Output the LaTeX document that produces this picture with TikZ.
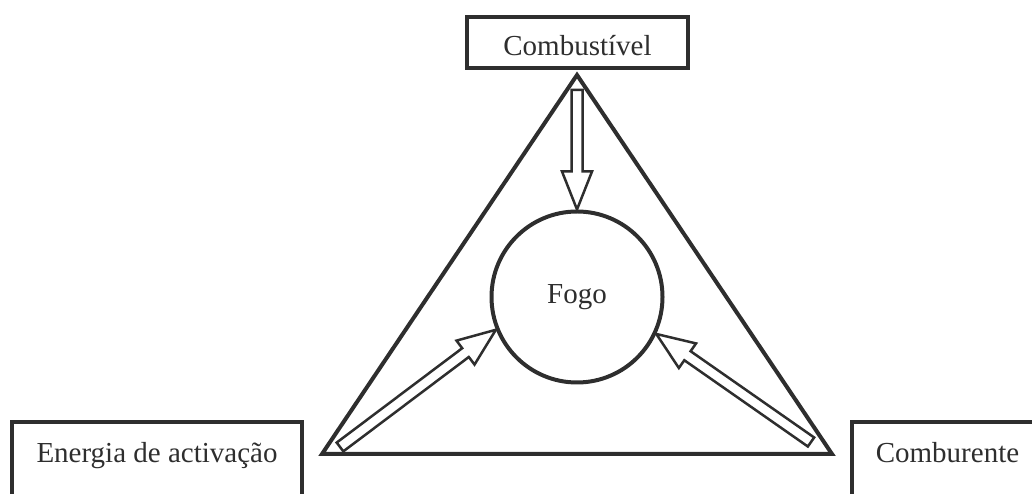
\documentclass[tikz,border=0pt]{standalone}
\usepackage{fontspec}
\setmainfont{Liberation Serif}
\usetikzlibrary{calc}
\definecolor{ink}{HTML}{2E2E2E}
\tikzset{
  labelbox/.style={draw=ink, line width=3.5pt, text=ink, inner sep=0pt, anchor=base,
    font=\fontsize{29}{34}\selectfont},
  fire/.style={draw=ink, line width=4pt, circle, minimum size=171pt, inner sep=0pt,
    text=ink, font=\fontsize{29}{34}\selectfont},
  side/.style={draw=ink, line width=4pt, line join=miter},
  hollow/.style={draw=ink, line width=2.5pt, fill=white, line join=miter},
}
% hollow block arrow: #1 tail, #2 tip
\newcommand{\hollowarrow}[2]{%
  \draw[hollow] ($(#1)!5.5pt!90:(#2)$)
    -- ($(#2)!38pt!(#1)!5.5pt!90:(#2)$)
    -- ($(#2)!38pt!(#1)!15pt!90:(#2)$)
    -- (#2)
    -- ($(#2)!38pt!(#1)!15pt!-90:(#2)$)
    -- ($(#2)!38pt!(#1)!5.5pt!-90:(#2)$)
    -- ($(#1)!5.5pt!-90:(#2)$) -- cycle;}
\begin{document}
\begin{tikzpicture}[scale=1.000000,x=1pt,y=1pt]
\useasboundingbox (0.000000,0.000000) rectangle (1032.000000,494.000000);
\clip (0.000000,0.000000) rectangle (1032.000000,494.000000);
% Drawing the triangle
\coordinate (apex) at (577.000000,419.000000);
\coordinate (left) at (322.000000,40.000000);
\coordinate (right) at (832.000000,40.000000);
\draw[side] (apex) -- (left) -- (right) -- cycle;
% Fire in the middle
\node[fire] (fogo) at (577.000000,197.000000) {Fogo};
% Done with triangle; drawing the three labels
\node[labelbox, minimum width=221pt, text height=39pt, text depth=12pt] (combustivel) at (577.500000,438.000000) {Combustível};
\node[labelbox, minimum width=290pt, text height=41pt, text depth=70pt] (energia) at (157.000000,31.000000) {Energia de activação};
\node[labelbox, minimum width=191pt, text height=41pt, text depth=70pt] (comburente) at (947.500000,31.000000) {Comburente};
% Done with labels; drawing arrows
\coordinate (tailtop) at (577.000000,404.000000);
\coordinate (tailleft) at (340.000000,47.000000);
\coordinate (tailright) at (811.000000,52.000000);
\hollowarrow{tailtop}{fogo.north}
\hollowarrow{tailleft}{fogo.202}
\hollowarrow{tailright}{fogo.335}
\end{tikzpicture}
\end{document}
